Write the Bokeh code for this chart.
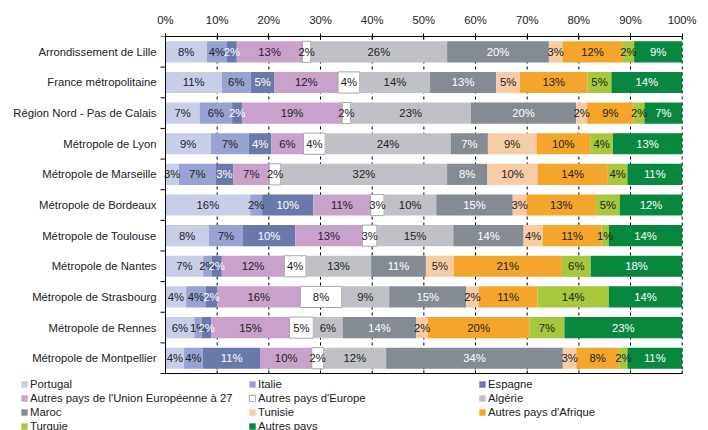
import numpy as np
from bokeh.plotting import figure
from bokeh.models import (ColumnDataSource, FixedTicker, LinearAxis, Range1d, Legend,
                          LegendItem, PrintfTickFormatter)
from bokeh.core.properties import value
from bokeh.embed import file_html
from bokeh.resources import INLINE

categories = ["Arrondissement de Lille", "France métropolitaine", "Région Nord - Pas de Calais",
              "Métropole de Lyon", "Métropole de Marseille", "Métropole de Bordeaux",
              "Métropole de Toulouse", "Métropole de Nantes", "Métropole de Strasbourg",
              "Métropole de Rennes", "Métropole de Montpellier"]

series_names = ["Portugal", "Italie", "Espagne", "Autres pays de l'Union Européenne à 27",
                "Autres pays d'Europe", "Algérie", "Maroc", "Tunisie", "Autres pays d'Afrique",
                "Turquie", "Autres pays"]

portugal      = [8.0, 10.9, 6.6, 8.8, 2.6, 16.4, 8.4, 7.3, 4.0, 5.6, 3.6]
italie        = [3.9, 5.6, 6.3, 7.3, 7.1, 2.3, 6.6, 1.6, 3.8, 1.4, 3.6]
espagne       = [1.9, 4.6, 1.9, 4.4, 3.4, 9.9, 10.1, 2.0, 2.2, 1.9, 11.2]
ue27          = [12.7, 12.3, 19.4, 6.2, 7.0, 11.1, 13.0, 12.1, 16.1, 15.1, 9.9]
autres_europe = [1.6, 4.2, 1.6, 4.2, 2.2, 2.6, 2.8, 4.2, 8.0, 4.6, 2.3]
algerie       = [26.4, 13.6, 23.3, 24.3, 32.2, 10.1, 14.8, 12.6, 9.2, 5.7, 12.1]
maroc         = [19.7, 12.8, 20.4, 7.2, 7.8, 14.8, 13.6, 10.6, 14.9, 14.2, 34.2]
tunisie       = [2.6, 4.6, 2.1, 9.4, 9.7, 2.7, 3.7, 5.4, 2.4, 2.3, 2.6]
autres_afrique = [11.7, 13.1, 9.0, 10.4, 13.6, 13.4, 11.4, 20.9, 11.4, 19.6, 8.3]
turquie       = [2.2, 4.6, 2.1, 4.4, 3.8, 4.6, 1.4, 5.6, 13.8, 6.8, 1.6]
autres_pays   = [9.3, 13.7, 7.3, 13.4, 10.6, 12.1, 14.2, 17.7, 14.2, 22.8, 10.6]

x_ticks = [0, 10, 20, 30, 40, 50, 60, 70, 80, 90, 100]

colors = ["#C8CDE8", "#98A2D3", "#6B79AA", "#C9A2CB", "#FFFFFF", "#BFC1C6",
          "#858B92", "#F6CCA6", "#F4A52C", "#A7C73D", "#08873F"]
text_colors = ["#222222", "#222222", "#FFFFFF", "#222222", "#222222", "#222222",
               "#FFFFFF", "#222222", "#222222", "#222222", "#FFFFFF"]
line_alphas = [0, 0, 0, 0, 1, 0, 0, 0, 0, 0, 0]
BORDER = "#A6A6A6"

all_series = [portugal, italie, espagne, ue27, autres_europe, algerie, maroc, tunisie,
              autres_afrique, turquie, autres_pays]
keys = ["s%d" % i for i in range(len(all_series))]

n = len(categories)
ypos = list(range(n))
data = {"y": ypos}
for k, s in zip(keys, all_series):
    data[k] = s
source = ColumnDataSource(data)

FONT = "Liberation Sans"
FS = "11.3px"

# ---- layout geometry (pixels) ----
W, H = 708, 430
TOP = 36                 # top of the bar area
PX_ZERO, PX_FULL = 165.0, 681.7   # screen x of 0% and 100%
PITCH = 30.64            # screen height of one category band
ppu = (PX_FULL - PX_ZERO) / 100.0
x_start = -PX_ZERO / ppu
x_end = 100 + (W - PX_FULL) / ppu
y_bottom = -0.5 + (H - TOP) / PITCH

p = figure(width=W, height=H, output_backend="svg", toolbar_location=None,
           x_range=Range1d(x_start, x_end), y_range=Range1d(y_bottom, -0.5),
           x_axis_location=None, y_axis_location=None,
           min_border_left=0, min_border_right=0, min_border_top=TOP, min_border_bottom=0)
p.outline_line_color = None
p.xgrid.visible = False
p.ygrid.visible = False
p.background_fill_color = "white"

lo, hi = -0.5, n - 0.5

# dashed vertical grid lines (behind the bars)
p.segment(x0=x_ticks, y0=[lo] * len(x_ticks), x1=x_ticks, y1=[hi] * len(x_ticks),
          line_color="#000000", line_dash="3 3", line_width=1)

renderers = p.hbar_stack(keys, y="y", height=0.69, color=colors, source=source,
                         line_color=BORDER, line_alpha=line_alphas, line_width=1)

# value labels
arr = np.array(all_series, dtype=float)
cum = np.cumsum(arr, axis=0)
lefts = cum - arr
lx, ly, lt, lc = [], [], [], []
for i in range(arr.shape[0]):
    for j in range(n):
        lx.append((lefts[i, j] + cum[i, j]) / 2.0)
        ly.append(ypos[j])
        lt.append(f"{arr[i, j]:.0f}%")
        lc.append(text_colors[i])
lsrc = ColumnDataSource(dict(x=lx, y=ly, text=lt, color=lc))
p.text(x="x", y="y", text="text", source=lsrc, text_color="color", text_align="center",
       text_baseline="middle", text_font=value(FONT), text_font_size=value(FS))

# left axis (drawn): line, boundary ticks, category labels
p.segment(x0=[0], y0=[lo], x1=[0], y1=[hi], line_color="#000000", line_width=1)
bounds_y = [i - 0.5 for i in range(n + 1)]
p.ray(x=[0] * len(bounds_y), y=bounds_y, length=5, length_units="screen", angle=np.pi,
      line_color="#000000", line_width=1)
p.text(x=[0] * n, y=ypos, text=categories, x_offset=-9, text_align="right",
       text_baseline="middle", text_color="#222222", text_font=value(FONT),
       text_font_size=value(FS))

# bottom line with small inward ticks
p.segment(x0=[0], y0=[hi], x1=[100], y1=[hi], line_color="#000000", line_width=1)
p.ray(x=x_ticks, y=[hi] * len(x_ticks), length=3, length_units="screen", angle=np.pi / 2,
      line_color="#000000", line_width=1)

# top axis
top = LinearAxis(ticker=FixedTicker(ticks=x_ticks, minor_ticks=[]),
                 formatter=PrintfTickFormatter(format="%d%%"), bounds=(0, 100))
top.axis_line_color = "#000000"
top.major_tick_line_color = "#000000"
top.major_tick_in = 3
top.major_tick_out = 3
top.minor_tick_line_color = None
top.major_label_standoff = 8
top.major_label_text_font = FONT
top.major_label_text_font_size = FS
top.major_label_text_color = "#222222"
p.add_layout(top, "above")

# legend: three columns below the bars
ROW_H, GAP = 14, 0
legend_top = 377.0
col_x = [20, 248, 478]
for c in range(3):
    idx = [i for i in range(len(series_names)) if i % 3 == c]
    items = [LegendItem(label=series_names[i], renderers=[renderers[i]]) for i in idx]
    h = len(idx) * ROW_H + (len(idx) - 1) * GAP
    leg = Legend(items=items, location=(col_x[c], H - legend_top - h),
                 orientation="vertical", padding=0, margin=0, spacing=GAP,
                 glyph_width=8, glyph_height=8, label_standoff=2, label_height=ROW_H,
                 label_text_font=FONT, label_text_font_size=FS,
                 label_text_color="#222222", border_line_alpha=0,
                 background_fill_alpha=0)
    p.add_layout(leg)

open("out.html", "w").write(file_html(p, INLINE))
